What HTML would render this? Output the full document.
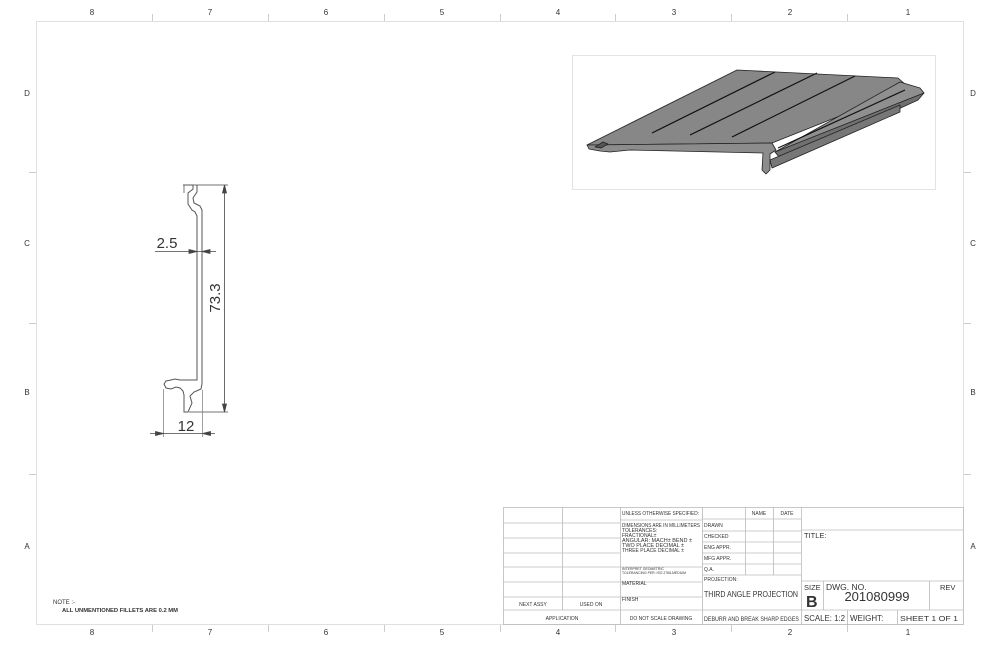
<!DOCTYPE html>
<html><head><meta charset="utf-8"><style>
html,body{margin:0;padding:0;background:#fff}
svg{display:block}
text{font-family:"Liberation Sans",sans-serif;fill:#333}
</style></head><body>
<svg width="1000" height="647" viewBox="0 0 1000 647" xmlns="http://www.w3.org/2000/svg">
<rect x="36.5" y="21.5" width="927" height="603" fill="none" stroke="#e0e0e0" stroke-width="1"/>
<g stroke="#ccc" stroke-width="1">
<line x1="152.5" y1="14" x2="152.5" y2="21"/><line x1="268.5" y1="14" x2="268.5" y2="21"/><line x1="384.5" y1="14" x2="384.5" y2="21"/><line x1="500.5" y1="14" x2="500.5" y2="21"/><line x1="615.5" y1="14" x2="615.5" y2="21"/><line x1="731.5" y1="14" x2="731.5" y2="21"/><line x1="847.5" y1="14" x2="847.5" y2="21"/>
<line x1="152.5" y1="625" x2="152.5" y2="632"/><line x1="268.5" y1="625" x2="268.5" y2="632"/><line x1="384.5" y1="625" x2="384.5" y2="632"/><line x1="500.5" y1="625" x2="500.5" y2="632"/><line x1="615.5" y1="625" x2="615.5" y2="632"/><line x1="731.5" y1="625" x2="731.5" y2="632"/><line x1="847.5" y1="625" x2="847.5" y2="632"/>
<line x1="29" y1="172.5" x2="36" y2="172.5"/><line x1="29" y1="323.5" x2="36" y2="323.5"/><line x1="29" y1="474.5" x2="36" y2="474.5"/>
<line x1="964" y1="172.5" x2="971" y2="172.5"/><line x1="964" y1="323.5" x2="971" y2="323.5"/><line x1="964" y1="474.5" x2="971" y2="474.5"/>
</g>
<g font-size="8" text-anchor="middle">
<text x="92" y="15">8</text><text x="210" y="15">7</text><text x="326" y="15">6</text><text x="442" y="15">5</text><text x="558" y="15">4</text><text x="674" y="15">3</text><text x="790" y="15">2</text><text x="908" y="15">1</text>
<text x="92" y="635">8</text><text x="210" y="635">7</text><text x="326" y="635">6</text><text x="442" y="635">5</text><text x="558" y="635">4</text><text x="674" y="635">3</text><text x="790" y="635">2</text><text x="908" y="635">1</text>
<text x="27" y="96">D</text><text x="27" y="246">C</text><text x="27" y="395">B</text><text x="27" y="549">A</text>
<text x="973" y="96">D</text><text x="973" y="246">C</text><text x="973" y="395">B</text><text x="973" y="549">A</text>
</g>

<!-- profile -->
<g fill="none" stroke="#555" stroke-width="1">
<path d="M183,185 L193,185 L193,189 L188,193 L188,204 L192,210 L195,212 L197,216 L197,380 L180,380 L175,379 L171,380 L166,381 L164,384 L166,388 L171,389 L176,387 L180,388 L183,391 L184,395 L184,412 L188,412 L192,403 L190,396 L194,392 L201,389 L202,384 L202,210 L200,206 L194,203 L193,198 L197,192 L197,185"/>
<line x1="184" y1="185" x2="184" y2="193" stroke="#777"/>
</g>
<g stroke="#444" stroke-width="0.8" fill="#444">
<line x1="193" y1="185" x2="228" y2="185"/><line x1="189" y1="412" x2="228" y2="412"/>
<line x1="224.5" y1="187" x2="224.5" y2="410"/>
<path d="M224.5,185 l-2,8 l4,0z"/><path d="M224.5,412 l-2,-8 l4,0z"/>
<line x1="155" y1="251.5" x2="216" y2="251.5"/>
<path d="M197,251.5 l-8,-2 l0,4z"/><path d="M202,251.5 l8,-2 l0,4z"/>
<line x1="163.5" y1="389" x2="163.5" y2="437" stroke="#888"/><line x1="202.5" y1="390" x2="202.5" y2="437" stroke="#888"/>
<line x1="150" y1="433.5" x2="215" y2="433.5"/>
<path d="M163.5,433.5 l-8,-2 l0,4z"/><path d="M202.5,433.5 l8,-2 l0,4z"/>
</g>
<text x="167" y="248" font-size="15" text-anchor="middle" fill="#222">2.5</text>
<text x="186" y="431" font-size="15" text-anchor="middle" fill="#222">12</text>
<text x="0" y="0" font-size="15" text-anchor="middle" fill="#222" transform="translate(220,298) rotate(-90)">73.3</text>

<!-- 3D view -->
<rect x="572.5" y="55.5" width="363" height="134" fill="none" stroke="#e3e3e3"/>
<g stroke="#222" stroke-width="0.8" stroke-linejoin="round">
<polygon points="587,145 737,70 898,78 905,84 900,92 772,143" fill="#878787"/>
<polygon points="900,82 920,88 924,93 780,156 775,152" fill="#8f8f8f"/>
<polygon points="775,152 924,93 918,100 783,162" fill="#707070"/>
<polygon points="587,145 772,143 776,150 770,154 770,170 766,174 762,170 763,153 630,150 610,152 600,151 589,149" fill="#8c8c8c"/>
<polygon points="770,160 900,105 900,112 772,168" fill="#777"/>
<polygon points="595,147 603,142 608,144 601,148" fill="#555"/>
</g>
<g stroke="#111" stroke-width="1.2">
<line x1="652" y1="133" x2="775" y2="72"/><line x1="690" y1="135" x2="817" y2="73"/><line x1="732" y1="137" x2="855" y2="76"/>
<line x1="778" y1="148" x2="905" y2="90"/>
</g>

<!-- notes -->
<text x="53" y="604" font-size="6">NOTE :-</text>
<text x="62" y="612" font-size="5.5" font-weight="bold" fill="#111" textLength="116" lengthAdjust="spacingAndGlyphs">ALL UNMENTIONED FILLETS ARE 0.2 MM</text>

<!-- title block -->
<g stroke="#bbb" stroke-width="0.8" fill="none">
<rect x="503.5" y="507.5" width="460" height="117"/>
<line x1="562.5" y1="507" x2="562.5" y2="610"/>
<line x1="620.5" y1="507" x2="620.5" y2="625"/>
<line x1="702.5" y1="507" x2="702.5" y2="625"/>
<line x1="745.5" y1="507" x2="745.5" y2="575"/>
<line x1="773.5" y1="507" x2="773.5" y2="575"/>
<line x1="801.5" y1="507" x2="801.5" y2="625"/>
<line x1="503" y1="523" x2="620" y2="523"/><line x1="503" y1="538" x2="620" y2="538"/><line x1="503" y1="553" x2="620" y2="553"/><line x1="503" y1="567" x2="702" y2="567"/><line x1="503" y1="582" x2="702" y2="582"/><line x1="503" y1="597" x2="702" y2="597"/><line x1="503" y1="610" x2="963" y2="610"/>
<line x1="620" y1="520" x2="702" y2="520"/>
<line x1="702" y1="519" x2="801" y2="519"/><line x1="702" y1="531" x2="801" y2="531"/><line x1="702" y1="542" x2="801" y2="542"/><line x1="702" y1="553" x2="801" y2="553"/><line x1="702" y1="564" x2="801" y2="564"/><line x1="702" y1="575" x2="801" y2="575"/>
<line x1="801" y1="530" x2="963" y2="530"/>
<line x1="801" y1="581" x2="963" y2="581"/>
<line x1="823.5" y1="581" x2="823.5" y2="610"/><line x1="929.5" y1="581" x2="929.5" y2="610"/>
<line x1="847.5" y1="610" x2="847.5" y2="625"/><line x1="897.5" y1="610" x2="897.5" y2="625"/>
</g>
<g font-size="5" fill="#444" lengthAdjust="spacingAndGlyphs">
<text x="622" y="515" textLength="77" lengthAdjust="spacingAndGlyphs">UNLESS OTHERWISE SPECIFIED:</text>
<text x="622" y="527" textLength="78" lengthAdjust="spacingAndGlyphs">DIMENSIONS ARE IN MILLIMETERS</text>
<text x="622" y="532">TOLERANCES:</text>
<text x="622" y="537">FRACTIONAL±</text>
<text x="622" y="542" textLength="70" lengthAdjust="spacingAndGlyphs">ANGULAR: MACH±    BEND ±</text>
<text x="622" y="547" textLength="62" lengthAdjust="spacingAndGlyphs">TWO PLACE DECIMAL   ±</text>
<text x="622" y="552" textLength="62" lengthAdjust="spacingAndGlyphs">THREE PLACE DECIMAL  ±</text>
<text x="622" y="570" font-size="3.5">INTERPRET GEOMETRIC</text>
<text x="622" y="574" font-size="3.5" textLength="64" lengthAdjust="spacingAndGlyphs">TOLERANCING PER: ISO 2768-MEDIUM</text>
<text x="622" y="585">MATERIAL</text>
<text x="622" y="601">FINISH</text>
<text x="661" y="620" text-anchor="middle">DO NOT SCALE DRAWING</text>
<text x="562" y="620" text-anchor="middle">APPLICATION</text>
<text x="533" y="606" text-anchor="middle">NEXT ASSY</text>
<text x="591" y="606" text-anchor="middle">USED ON</text>
<text x="759" y="515" text-anchor="middle">NAME</text>
<text x="787" y="515" text-anchor="middle">DATE</text>
<text x="704" y="527">DRAWN</text>
<text x="704" y="538">CHECKED</text>
<text x="704" y="549">ENG APPR.</text>
<text x="704" y="560">MFG APPR.</text>
<text x="704" y="571">Q.A.</text>
<text x="704" y="581">PROJECTION:</text>
</g>
<text x="704" y="597" font-size="8.5" fill="#333" textLength="94" lengthAdjust="spacingAndGlyphs">THIRD ANGLE PROJECTION</text>
<text x="704" y="621" font-size="6.5" fill="#333" textLength="95" lengthAdjust="spacingAndGlyphs">DEBURR AND BREAK SHARP EDGES</text>
<text x="804" y="538" font-size="7.5" fill="#333">TITLE:</text>
<text x="804" y="590" font-size="7.5" fill="#333">SIZE</text>
<text x="806" y="607" font-size="16" font-weight="bold" fill="#111">B</text>
<text x="826" y="590" font-size="8.5" fill="#333">DWG.  NO.</text>
<text x="877" y="601" font-size="13" text-anchor="middle" fill="#333">201080999</text>
<text x="940" y="590" font-size="7.5" fill="#333">REV</text>
<text x="804" y="621" font-size="8" fill="#333" textLength="41" lengthAdjust="spacingAndGlyphs">SCALE: 1:2</text>
<text x="850" y="621" font-size="8" fill="#333">WEIGHT:</text>
<text x="900" y="621" font-size="7.5" fill="#333" textLength="58" lengthAdjust="spacingAndGlyphs">SHEET 1 OF 1</text>
</svg>
</body></html>
